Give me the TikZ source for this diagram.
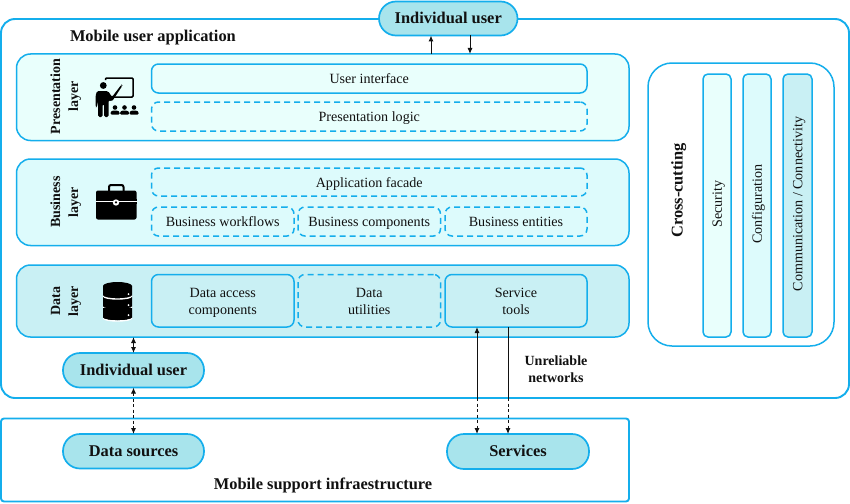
\documentclass[tikz,border=0pt]{standalone}
\usepackage{fontspec}
\usepackage{graphicx}
\setmainfont{Liberation Serif}
\usetikzlibrary{arrows.meta}
\definecolor{edge}{HTML}{14AEEC}
\definecolor{fillA}{HTML}{E9FFFC}
\definecolor{fillB}{HTML}{DDFBFC}
\definecolor{fillC}{HTML}{C9F0F4}
\definecolor{fillD}{HTML}{A8E4EC}
\definecolor{ink}{HTML}{111111}
\tikzset{
  x=1pt,y=-1pt,
  every node/.style={inner sep=0pt,outer sep=0pt,text=ink,align=center},
  frameline/.style={draw=edge,line width=1.9pt,fill=white},
  layerbox/.style={draw=edge,line width=1.5pt,rounded corners=14pt},
  solidbox/.style={draw=edge,line width=1.5pt,rounded corners=7pt,font=\fontsize{14.1}{17}\selectfont},
  dashbox/.style={solidbox,dash pattern=on 6pt off 4pt},
  barbox/.style={draw=edge,line width=1.5pt,rounded corners=5pt,font=\fontsize{14.1}{17}\selectfont},
  pill/.style={draw=edge,line width=1.7pt,fill=fillD,rounded corners=17pt,font=\bfseries\fontsize{16.4}{18}\selectfont},
  boldlabel/.style={font=\bfseries\fontsize{16.4}{18}\selectfont},
  layerlabel/.style={font=\bfseries\fontsize{14}{18}\selectfont,rotate=90},
  link/.style={draw=ink,line width=1pt,{Latex[length=6pt,width=5pt]}-{Latex[length=6pt,width=5pt]}},
  linkto/.style={draw=ink,line width=1pt,-{Latex[length=6pt,width=5pt]}},
  linkfrom/.style={draw=ink,line width=1pt,{Latex[length=6pt,width=5pt]}-},
  plainlink/.style={draw=ink,line width=1pt},
  dashlink/.style={dash pattern=on 3pt off 2.5pt},
}
\newcommand{\tallstrut}{\rule[-3pt]{0pt}{16pt}}
% name, style, x1, y1, x2, y2, text
\newcommand{\pxbox}[7]{%
  \node[#2,minimum width=#5pt-#3pt,minimum height=#6pt-#4pt] (#1) at ({(#3+#5)/2},{(#4+#6)/2}) {\tallstrut #7\tallstrut};}
\begin{document}
\begin{tikzpicture}
\useasboundingbox (0,0) rectangle (850,503);
\fill[white] (0,0) rectangle (850,503);

% frames
\pxbox{app}{frameline,rounded corners=14pt}{1}{19}{849}{398}{}
\pxbox{infra}{frameline,rounded corners=3pt}{1}{418.5}{629}{501.5}{}
\node[boldlabel,anchor=west] (apptitle) at (70,36.5) {\tallstrut Mobile user application};
\node[boldlabel] (infratitle) at (323,485) {\tallstrut Mobile support infraestructure};

% layers
\pxbox{pres}{layerbox,fill=fillA}{16.5}{54}{629}{140.5}{}
\pxbox{bus}{layerbox,fill=fillB}{16.5}{159}{629}{245.5}{}
\pxbox{data}{layerbox,fill=fillC}{16.5}{265}{629}{337}{}

\node[layerlabel] (preslabel) at (65.5,96.5) {\strut Presentation\\layer\strut};
\node[layerlabel] (buslabel) at (65.5,202) {\strut Business\\layer\strut};
\node[layerlabel] (datalabel) at (65.5,301) {\strut Data\\layer\strut};

% presentation boxes
\pxbox{ui}{solidbox}{151.5}{64}{587}{93}{User interface}
\pxbox{plogic}{dashbox}{151.5}{102}{587}{131}{Presentation logic}
% business boxes
\pxbox{facade}{dashbox}{151.5}{168}{587}{196}{Application facade}
\pxbox{workflows}{dashbox}{151.5}{207}{294}{236}{Business workflows}
\pxbox{components}{dashbox}{298}{207}{440.5}{236}{Business components}
\pxbox{entities}{dashbox}{445}{207}{587}{236}{Business entities}
% data boxes
\pxbox{access}{solidbox}{151.5}{274.5}{294}{327}{Data access\\components}
\pxbox{utilities}{dashbox}{298}{274.5}{440.5}{327}{Data\\utilities}
\pxbox{tools}{solidbox}{445}{274.5}{587}{327}{Service\\tools}

% cross-cutting
\pxbox{cross}{draw=edge,line width=1.5pt,rounded corners=24pt,fill=white}{648}{63}{834}{346}{}
\node[boldlabel,rotate=90] (crosslabel) at (679,190.5) {\strut Cross-cutting};
\pxbox{security}{barbox,fill=fillA}{703}{74}{731}{337}{\rotatebox{90}{\tallstrut Security}}
\pxbox{config}{barbox,fill=fillB}{743}{74}{771}{337}{\rotatebox{90}{\tallstrut Configuration}}
\pxbox{comm}{barbox,fill=fillC}{783}{74}{812}{337}{\rotatebox{90}{\tallstrut Communication / Connectivity}}

% pills
\pxbox{usertop}{pill}{379}{1.5}{517.5}{35.5}{Individual user}
\pxbox{userlow}{pill}{63}{353}{204}{387.5}{Individual user}
\pxbox{sources}{pill}{63}{434}{204}{468.5}{Data sources}
\pxbox{services}{pill}{447}{434}{589}{469}{Services}
\node[font=\bfseries\fontsize{14}{17}\selectfont] (netlabel) at (556,371) {\strut Unreliable\\networks\strut};

% connector guides
\coordinate (gA) at (431,0);
\coordinate (gB) at (470,0);
\coordinate (gC) at (133.5,0);
\coordinate (gD) at (477,0);
\coordinate (gE) at (508,0);
\coordinate (splitD) at (477,398);
\coordinate (splitE) at (508,398);

% connectors
\draw[linkfrom] (usertop.south -| gA) -- (pres.north -| gA);
\draw[linkto] (usertop.south -| gB) -- (pres.north -| gB);
\draw[link] (data.south -| gC) -- (userlow.north -| gC);
\draw[link,dashlink] (userlow.south -| gC) -- (sources.north -| gC);
\draw[linkfrom] (tools.south -| gD) -- (splitD);
\draw[linkto,dashlink] (splitD) -- (services.north -| gD);
\draw[plainlink] (tools.south -| gE) -- (splitE);
\draw[linkto,dashlink] (splitE) -- (services.north -| gE);

% teacher icon
\draw[black,line width=1.5pt,rounded corners=1pt] (105.5,80) -- (105.5,78) -- (133,78) -- (133,97) -- (113,97);
\fill[black] (103.3,85.5) circle (3.4);
\fill[black,rounded corners=1.5pt] (97,91) -- (108,91) -- (112,97) -- (121.5,84.5) -- (122.5,85.5) -- (112,101.5) -- (108.5,100) -- (108.5,117) -- (104,117) -- (104,104) -- (102.5,104) -- (102.5,117) -- (98,117) -- (98,101) -- (97,107) -- (95.5,107) -- (95.5,96) -- cycle;
\foreach \cx in {115,124.5,134}{
  \fill[black] (\cx,107.5) circle (2.3);
  \fill[black,rounded corners=1pt] (\cx-4.5,114.5) -- (\cx-4.5,112) -- (\cx-2.5,110.5) -- (\cx+2.5,110.5) -- (\cx+4.5,112) -- (\cx+4.5,114.5) -- cycle;
}

% briefcase icon
\draw[black,line width=2pt,rounded corners=2pt] (109,191) -- (109,185) -- (123.5,185) -- (123.5,191);
\fill[black,rounded corners=2pt] (96,190.5) rectangle (136.5,201);
\fill[black,rounded corners=2pt] (96,201.8) rectangle (136.5,219.5);
\fill[black] (96,199) rectangle (136.5,201);
\fill[black] (96,201.8) rectangle (136.5,204);
\fill[white] (96,201) rectangle (136.5,201.8);
\fill[white] (116,202.5) circle (3.2);
\fill[black] (116,202.3) circle (1.2);

% database icon
\foreach \ty in {307.5,296.5,285.5}{
  \fill[black] (103,\ty) -- (103,\ty+10) arc[start angle=180,end angle=360,x radius=14.5,y radius=-3] -- (132,\ty) -- cycle;
  \fill[white] (103,\ty+9.8) arc[start angle=180,end angle=360,x radius=14.5,y radius=-3] -- (132,\ty+11.2) arc[start angle=360,end angle=180,x radius=14.5,y radius=-3] -- cycle;
}
\fill[black] (103,307.5) rectangle (132,317);
\fill[black] (117.5,317) ellipse (14.5 and 3);
\fill[black] (117.5,286) ellipse (14.5 and 4);
\foreach \ty in {294,305,315}{\fill[white] (128.5,\ty) circle (1);}
\end{tikzpicture}
\end{document}
